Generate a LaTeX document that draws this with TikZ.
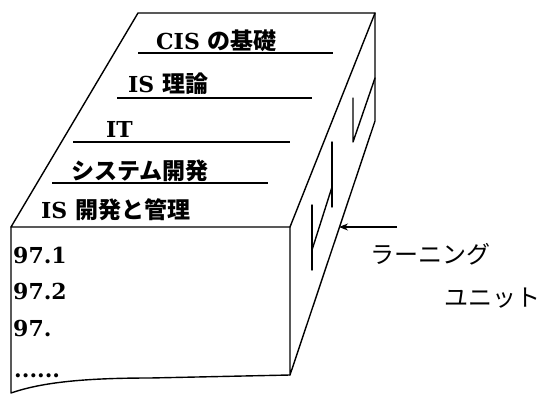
\documentclass[tikz,border=0pt]{standalone}
\usepackage{fontspec}
\setmainfont{DejaVu Serif}
\newfontfamily\cjk{Noto Sans CJK JP}
\newcommand{\jp}{\cjk\fontsize{23}{26}\selectfont}
\usetikzlibrary{arrows.meta}
\begin{document}
\begin{tikzpicture}[x=1pt,y=-1pt,
  edge/.style={line width=1.4pt,line join=round,line cap=round},
  uline/.style={line width=1.2pt},
  lbl/.style={anchor=west,inner sep=0pt,font=\bfseries\fontsize{22}{26}\selectfont},
  side/.style={anchor=west,inner sep=0pt,font=\cjk\fontsize{24}{28}\selectfont}]
\useasboundingbox (0,0) rectangle (541,394);
% corners
\coordinate (TL) at (138,13);
\coordinate (TR) at (375,13);
\coordinate (FR) at (290,227);
\coordinate (FL) at (11,227);
\coordinate (RB) at (375,121);
\coordinate (BR) at (290,375);
\coordinate (BL) at (11,393);
% top face
\draw[edge] (FL) -- (TL) -- (TR) -- (FR) -- cycle;
% right face
\draw[edge] (TR) -- (RB) -- (BR) -- (FR);
% front face
\draw[edge] (FL) -- (BL) .. controls (40,383) and (80,378) .. (150,378) -- (BR);
% underlines on top face
\draw[uline] (138,53) -- (333,53);
\draw[uline] (117,98) -- (312,98);
\draw[uline] (73,142) -- (290,142);
\draw[uline] (52,183) -- (268,183);
% dividers on right face
\draw[edge] (353,98) -- (353,142) -- (375,78);
\draw[edge] (332,142) -- (332,207);
\draw[edge] (312,250) -- (332,187);
\draw[edge] (312,205) -- (312,270);
% labels
\node[lbl] (l1) at (156,41) {CIS {\jp の基礎}};
\node[lbl] (l2) at (128,84) {IS {\jp 理論}};
\node[lbl] (l3) at (106,129) {IT};
\node[lbl] (l4) at (71,171) {\jp システム開発};
\node[lbl] (l5) at (41,210) {IS {\jp 開発と管理}};
\node[lbl] (n1) at (13,255) {97.1};
\node[lbl] (n2) at (13,291) {97.2};
\node[lbl] (n3) at (13,328) {97.};
\node[lbl] (n4) at (14,376) {......};
\node[side] (s1) at (370,254) {ラーニング};
\node[side] (s2) at (444,298) {ユニット};
\coordinate (as) at (397,227);
\coordinate (ae) at (339,227);
\draw[line width=1.1pt,-{Stealth[length=9pt,width=7pt]}] (as) -- (ae);
\end{tikzpicture}
\end{document}
